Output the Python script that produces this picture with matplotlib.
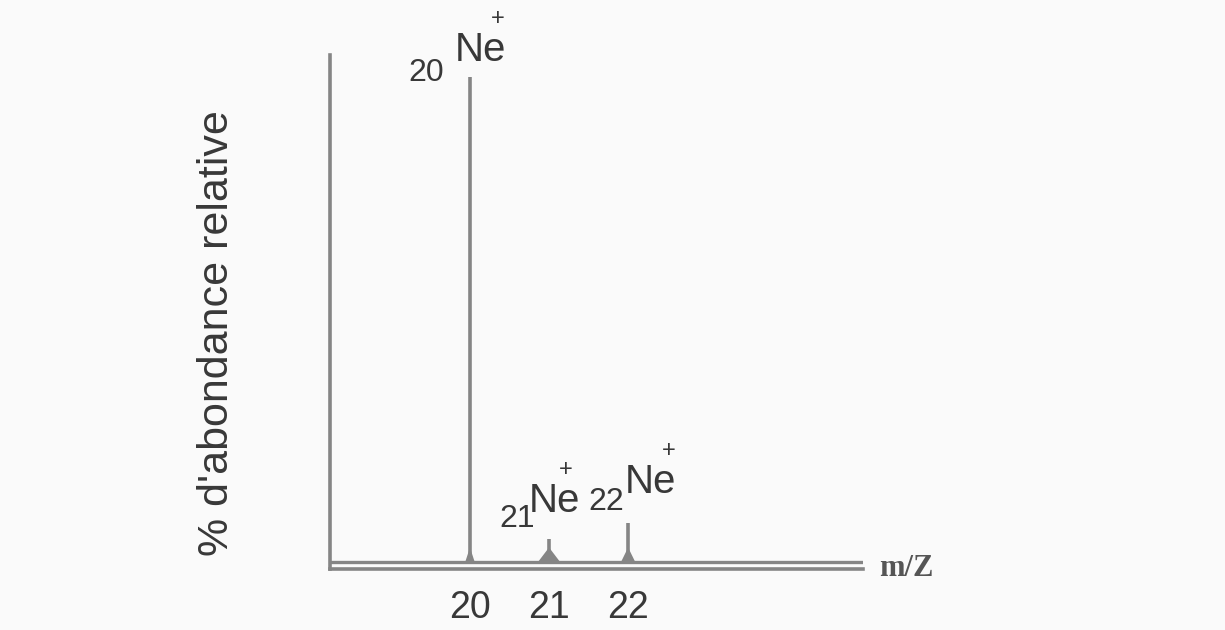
import numpy as np
import matplotlib
matplotlib.use("Agg")
from matplotlib import pyplot as plt

# peak data
mz = [20, 21, 22]
abundance = [100, 4.7, 8]
isotopes = ["20", "21", "22"]
tick_labels = ["20", "21", "22"]
base_halfwidth = [0.06, 0.14, 0.09]

# label offsets (pixels) relative to each peak top: (mass, Ne, + bottom)
label_offsets = [
    [(-44, 4), (10, 27), (28, 47)],
    [(-32, 20), (5, 38), (17, 58)],
    [(-22, 21), (22, 41), (41, 61)],
]

textColor = "#383838"
lineColor = "#858585"

plt.rcParams['font.family'] = ['Liberation Sans', 'DejaVu Sans']

fig = plt.figure(figsize=(12.25, 6.3), dpi=100, facecolor="#fafafa")
ax = fig.add_axes([330/1225, 1 - 569/630, 533/1225, 514/630])
ax.set_facecolor("#fafafa")

ax.set_xlim(18.23, 24.97)
ax.set_ylim(-1.44, 104.5)

# peaks: thin spike with a slightly widened foot
for x, h, w in zip(mz, abundance, base_halfwidth):
    ax.plot([x, x], [0, h], color=lineColor, lw=2.6, solid_capstyle="butt")
    ax.fill([x - w, x, x + w], [0, min(h, 3.0), 0], color=lineColor, lw=0)

# double baseline
ax.axhline(0, color=lineColor, lw=2.4)
for s in ["top", "right"]:
    ax.spines[s].set_visible(False)
ax.spines["left"].set_color(lineColor)
ax.spines["left"].set_linewidth(2.6)
ax.spines["bottom"].set_color(lineColor)
ax.spines["bottom"].set_linewidth(2.6)

ax.set_xticks(mz, tick_labels)
ax.tick_params(axis="x", length=0, pad=15, labelsize=27, labelcolor=textColor)
ax.set_yticks([])

ax.set_ylabel("% d'abondance relative", fontsize=31, color=textColor)
ax.yaxis.set_label_coords(-0.174, 0.459)

ax.text(1.03, 0.0, "m/Z", transform=ax.transAxes, fontsize=22, fontweight="bold",
        family="Liberation Serif", color="#555555", ha="left", va="center")

# isotope labels
px = 72 / fig.dpi
for x, h, iso, offs in zip(mz, abundance, isotopes, label_offsets):
    (mx, my), (nx, ny), (plx, ply) = offs
    ax.annotate(iso, (x, h), xytext=(mx * px, my * px), textcoords="offset points",
                fontsize=23, color=textColor, ha="center", va="center")
    ax.annotate("Ne", (x, h), xytext=(nx * px, ny * px), textcoords="offset points",
                fontsize=29, color=textColor, ha="center", va="center")
    ax.annotate("+", (x, h), xytext=(plx * px, ply * px), textcoords="offset points",
                fontsize=17, color=textColor, ha="center", va="bottom")

fig.savefig("out.png", dpi=100, facecolor=fig.get_facecolor())
